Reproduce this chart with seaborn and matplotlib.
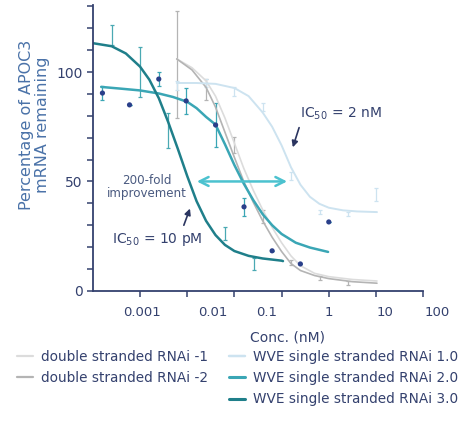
import matplotlib
matplotlib.use("Agg")
import matplotlib.pyplot as plt
from matplotlib.lines import Line2D
from matplotlib.ticker import MultipleLocator, NullFormatter
import pandas as pd
import seaborn as sns

# fitted curves: concentration (nM) vs % APOC3 mRNA remaining
ds1_conc = [0.006, 0.0126, 0.0251, 0.0398, 0.0631, 0.1, 0.158, 0.251, 0.398, 0.631, 1.0,
            1.58, 2.51, 5.01, 10, 31.6, 105]
ds1_pct = [106, 102, 96, 89, 79, 67.5, 56, 46, 37, 29, 22, 16, 11.5, 8, 6.5, 5.2, 4.5]
ds2_conc = [0.006, 0.0126, 0.0251, 0.0398, 0.0631, 0.1, 0.158, 0.251, 0.398, 0.631, 1.0,
            1.58, 2.51, 5.01, 10, 31.6, 105]
ds2_pct = [106, 101, 93, 84, 72.5, 61, 50, 40.5, 32, 24.5, 18, 12.5, 9.3, 7, 5.6, 4.2, 3.5]
ss1_conc = [0.006, 0.0158, 0.0398, 0.1, 0.2, 0.398, 0.631, 1.0, 1.58, 2.51, 3.98, 6.31,
            10, 20, 39.8, 105]
ss1_pct = [95, 95, 94.6, 92.7, 89, 81.5, 75, 66.5, 56.5, 48.5, 43, 39.8, 38, 36.8, 36.3, 36]
ss2_conc = [0.000151, 0.000398, 0.001, 0.00251, 0.00501, 0.01, 0.0158, 0.0251, 0.0398,
            0.0631, 0.1, 0.158, 0.251, 0.398, 0.631, 1.0, 2.0, 3.98, 9.66]
ss2_pct = [93.2, 92.4, 91.6, 90.2, 88.6, 86.4, 83.5, 79.5, 76, 67, 57.5, 49, 41.5, 35, 30,
           26, 22, 19.8, 17.8]
ss3_conc = [0.0001, 0.000251, 0.000501, 0.001, 0.00158, 0.00251, 0.00398, 0.00631, 0.01,
            0.0158, 0.0251, 0.0398, 0.0631, 0.1, 0.2, 0.398, 1.0, 1.07]
ss3_pct = [113.2, 111.8, 108.5, 102.5, 96.5, 88, 77, 65, 52.5, 41, 32, 25.5, 21, 18.2, 16,
           14.8, 13.8, 13.6]

# measured points (mean +/- sd)
ds_pt_conc = [0.006, 0.025, 0.1, 0.4, 1.6, 6.4, 25.6]
ds_pt_mean = [103.4, 92, 66.7, 34, 13, 6, 3.6]
ds_pt_err = [24.5, 5, 3.6, 3, 1, 1, 1]
ss1_pt_conc = [0.006, 0.025, 0.1, 0.4, 1.6, 6.4, 25.6, 102]
ss1_pt_mean = [94, 95, 91, 84, 52.5, 36, 35, 44]
ss1_pt_err = [2, 2, 2, 2, 2, 1, 1, 3]
ss2_pt_conc = [0.00016, 0.0006, 0.0025, 0.0095, 0.04, 0.16, 0.63, 2.5, 10]
ss2_pt_mean = [90.4, 85, 96.8, 86.8, 75.8, 38.4, 18.3, 12.3, 31.5]
ss2_pt_err = [3, 0, 3, 6, 10, 4, 0, 0, 0]
ss3_pt_conc = [0.00025, 0.001, 0.0039, 0.063, 0.26]
ss3_pt_mean = [117, 100, 73.3, 26.3, 12.3]
ss3_pt_err = [4.6, 11.5, 8, 3, 2.7]

xtick_labels = ["0.001", "0.01", "0.1", "1", "10", "100"]

navy = "#34416e"
colors = {
    "double stranded RNAi -1": "#dcdcdc",
    "double stranded RNAi -2": "#b4b4b4",
    "WVE single stranded RNAi 1.0": "#cde3f0",
    "WVE single stranded RNAi 2.0": "#3aa6b5",
    "WVE single stranded RNAi 3.0": "#1f7f8a",
}
widths = {
    "double stranded RNAi -1": 1.2,
    "double stranded RNAi -2": 1.2,
    "WVE single stranded RNAi 1.0": 1.4,
    "WVE single stranded RNAi 2.0": 1.8,
    "WVE single stranded RNAi 3.0": 1.8,
}

curves = pd.concat([
    pd.DataFrame({"conc": ds1_conc, "pct": ds1_pct, "series": "double stranded RNAi -1"}),
    pd.DataFrame({"conc": ds2_conc, "pct": ds2_pct, "series": "double stranded RNAi -2"}),
    pd.DataFrame({"conc": ss1_conc, "pct": ss1_pct, "series": "WVE single stranded RNAi 1.0"}),
    pd.DataFrame({"conc": ss2_conc, "pct": ss2_pct, "series": "WVE single stranded RNAi 2.0"}),
    pd.DataFrame({"conc": ss3_conc, "pct": ss3_pct, "series": "WVE single stranded RNAi 3.0"}),
])

sns.set_style("ticks")
plt.rcParams["font.family"] = ["DejaVu Sans"]

fig = plt.figure(figsize=(4.64, 4.24), dpi=100)
ax = fig.add_axes([0.2, 0.314, 0.712, 0.674])
ax.set_xscale("log")

# error bars first so the curves sit on top
points = [
    (ds_pt_conc, ds_pt_mean, ds_pt_err, colors["double stranded RNAi -2"]),
    (ss1_pt_conc, ss1_pt_mean, ss1_pt_err, colors["WVE single stranded RNAi 1.0"]),
    (ss2_pt_conc, ss2_pt_mean, ss2_pt_err, colors["WVE single stranded RNAi 2.0"]),
    (ss3_pt_conc, ss3_pt_mean, ss3_pt_err, "#4aa9b3"),
]
for c, m, e, col in points:
    ax.errorbar(c, m, yerr=e, fmt="none", ecolor=col, elinewidth=0.9, capsize=1.5, capthick=0.9)

for name, grp in curves.groupby("series", sort=False):
    sns.lineplot(data=grp, x="conc", y="pct", ax=ax, color=colors[name],
                 lw=widths[name], sort=False, estimator=None)

sns.scatterplot(x=ss2_pt_conc, y=ss2_pt_mean, ax=ax, color="#2a3f8a", s=14,
                edgecolor="none", zorder=5)

ax.set_xlim(1e-4, 1e3)
ax.set_ylim(0, 130.6)
ax.set_xticks([1e-3, 1e-2, 1e-1, 1, 10, 100, 1000])
ax.xaxis.set_major_formatter(NullFormatter())
ax.xaxis.set_minor_locator(plt.NullLocator())
ax.set_yticks([0, 50, 100])
ax.yaxis.set_minor_locator(MultipleLocator(10))
ax.tick_params(axis="both", which="both", direction="out", length=4, width=1.1,
               color=navy, labelcolor=navy, labelsize=10)
for s in ["left", "bottom"]:
    ax.spines[s].set_color(navy)
    ax.spines[s].set_linewidth(1.3)
sns.despine(ax=ax)

# tick labels sit where the slide put them (not quite under the ticks)
for lab, xf in zip(xtick_labels, [0.148, 0.364, 0.527, 0.715, 0.885, 1.042]):
    ax.text(xf, -0.077, lab, transform=ax.transAxes, ha="center", va="center",
            fontsize=9.5, color=navy, clip_on=False)

ax.set_xlabel("Conc. (nM)", fontsize=10, color=navy)
ax.xaxis.set_label_coords(0.588, -0.137)
ax.set_ylabel("Percentage of APOC3\nmRNA remaining", fontsize=11.5, color="#4a72a8",
              linespacing=1.05)
ax.yaxis.set_label_coords(-0.13, 0.58)

# annotations
ax.annotate("", xy=(0.014, 50), xytext=(1.5, 50),
            arrowprops=dict(arrowstyle="<->", color="#4cc2cf", lw=1.8, mutation_scale=16))
ax.annotate("", xy=(1.66, 64.4), xytext=(2.45, 75.8),
            arrowprops=dict(arrowstyle="-|>", color="#2b3560", lw=1.2, mutation_scale=9))
ax.annotate("", xy=(0.012, 38.8), xytext=(0.0081, 28.8),
            arrowprops=dict(arrowstyle="-|>", color="#2b3560", lw=1.2, mutation_scale=9))
ax.text(2.5, 81, r"IC$_{50}$ = 2 nM", ha="left", va="center", fontsize=10, color=navy)
ax.text(0.00025, 23.3, r"IC$_{50}$ = 10 pM", ha="left", va="center", fontsize=10, color=navy)
ax.text(0.0014, 47.5, "200-fold\nimprovement", ha="center", va="center", fontsize=8.6,
        color="#4a5a80", linespacing=1.0)

# legend under the plot: ds in the first column, ss in the second
order = ["double stranded RNAi -1", "double stranded RNAi -2", None,
         "WVE single stranded RNAi 1.0", "WVE single stranded RNAi 2.0",
         "WVE single stranded RNAi 3.0"]
handles, labels = [], []
for name in order:
    if name is None:
        handles.append(Line2D([], [], color="none"))
        labels.append("")
    else:
        handles.append(Line2D([], [], color=colors[name], lw=widths[name] + 0.4))
        labels.append(name)
fig.legend(handles, labels, ncol=2, loc="upper left", bbox_to_anchor=(0.01, 0.203),
           frameon=False, fontsize=9.8, handlelength=1.2, columnspacing=1.5,
           labelspacing=0.52, labelcolor=navy, handletextpad=0.6)

fig.savefig("out.png", dpi=100)
